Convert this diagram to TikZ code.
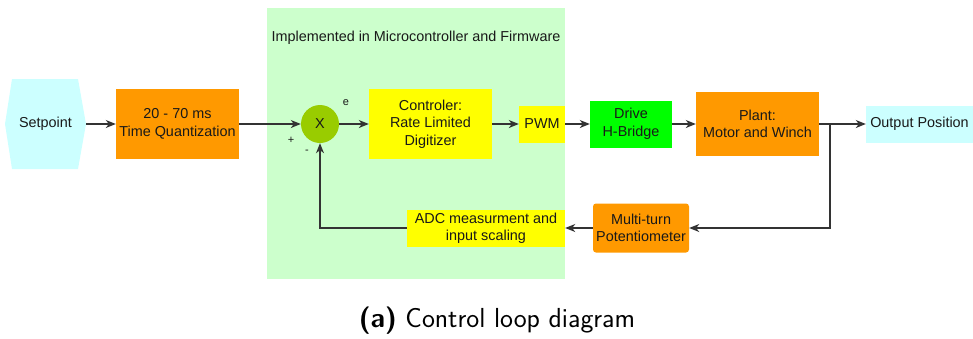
\documentclass[tikz,border=0pt]{standalone}
\usepackage{fontspec}
\setmainfont{Liberation Sans}
\usetikzlibrary{arrows.meta,shapes.geometric}
\definecolor{bgc}{HTML}{CCFFCC}
\definecolor{cyanc}{HTML}{CCFFFF}
\definecolor{orangec}{HTML}{FF9900}
\definecolor{yellowc}{HTML}{FFFF00}
\definecolor{greenc}{HTML}{00FF00}
\definecolor{circc}{HTML}{99CC00}
\begin{document}
\begin{tikzpicture}[x=1pt,y=-1pt,
  blk/.style={inner sep=0pt, align=center, font=\fontsize{14.4}{17.5}\selectfont, text=black!90},
  small/.style={inner sep=0pt, font=\fontsize{11}{13}\selectfont, text=black!90},
  arr/.style={draw=black!80, line width=1.2pt, -{Stealth[length=10pt,width=8pt,inset=3pt]}},
  ln/.style={draw=black!80, line width=1.2pt}]
\useasboundingbox (0,0) rectangle (973,338);
\fill[bgc] (267,8) rectangle (565,279);
\node[blk, anchor=base] (title) at (416,41) {Implemented in Microcontroller and Firmware};
\fill[cyanc] (5,124)--(12,79)--(78,79)--(86,124)--(78,169)--(12,169)--cycle;
\node[blk, minimum width=81pt, minimum height=90pt] (sp) at (45.5,124) {Setpoint};
\node[blk, fill=orangec, minimum width=123pt, minimum height=70pt] (tq) at (177.5,124) {20 - 70 ms\\Time Quantization};
\node[circle, fill=circc, minimum size=38pt, inner sep=0pt, font=\fontsize{14.4}{17}\selectfont, text=black!90] (x) at (320,124) {X};
\node[blk, fill=yellowc, minimum width=123pt, minimum height=70pt] (ctl) at (430.5,124) {Controler:\\Rate Limited\\Digitizer};
\node[blk, fill=yellowc, minimum width=46pt, minimum height=37pt] (pwm) at (542,124) {PWM};
\node[blk, fill=greenc, minimum width=82pt, minimum height=47pt] (hb) at (631,124) {Drive\\H-Bridge};
\node[blk, fill=orangec, minimum width=123pt, minimum height=64pt] (pl) at (757.5,124) {Plant:\\Motor and Winch};
\node[blk, fill=cyanc, minimum width=107pt, minimum height=37pt] (out) at (919.5,124) {Output Position};
\node[blk, fill=orangec, rounded corners=3pt, minimum width=96pt, minimum height=49pt] (pot) at (641,228) {Multi-turn\\Potentiometer};
\node[blk, fill=yellowc, minimum width=158pt, minimum height=37pt] (adc) at (486,228.5) {ADC measurment and\\input scaling};
\node[small] (e) at (346,103) {e};
\node[small] (plus) at (291,140) {+};
\node[small] (minus) at (307,152) {-};
\draw[arr] (sp) -- (tq);
\draw[arr] (tq) -- (x);
\draw[arr] (x) -- (ctl);
\draw[arr] (ctl) -- (pwm);
\draw[arr] (pwm) -- (hb);
\draw[arr] (hb) -- (pl);
\draw[arr] (pl) -- (out);
\coordinate (br) at (830,124);
\coordinate (brd) at (830,228);
\draw[arr] (br) -- (brd) -- (pot.east);
\draw[arr] (pot) -- (adc.east |- pot.west);
\coordinate (fb) at (320,228);
\draw[arr] (adc.west |- fb) -- (fb) -- (x.south);
\node[anchor=base, inner sep=0pt, font=\sffamily\fontsize{27.5}{32}\selectfont] (cap) at (497,327) {\textbf{(a)} Control loop diagram};
\end{tikzpicture}
\end{document}
